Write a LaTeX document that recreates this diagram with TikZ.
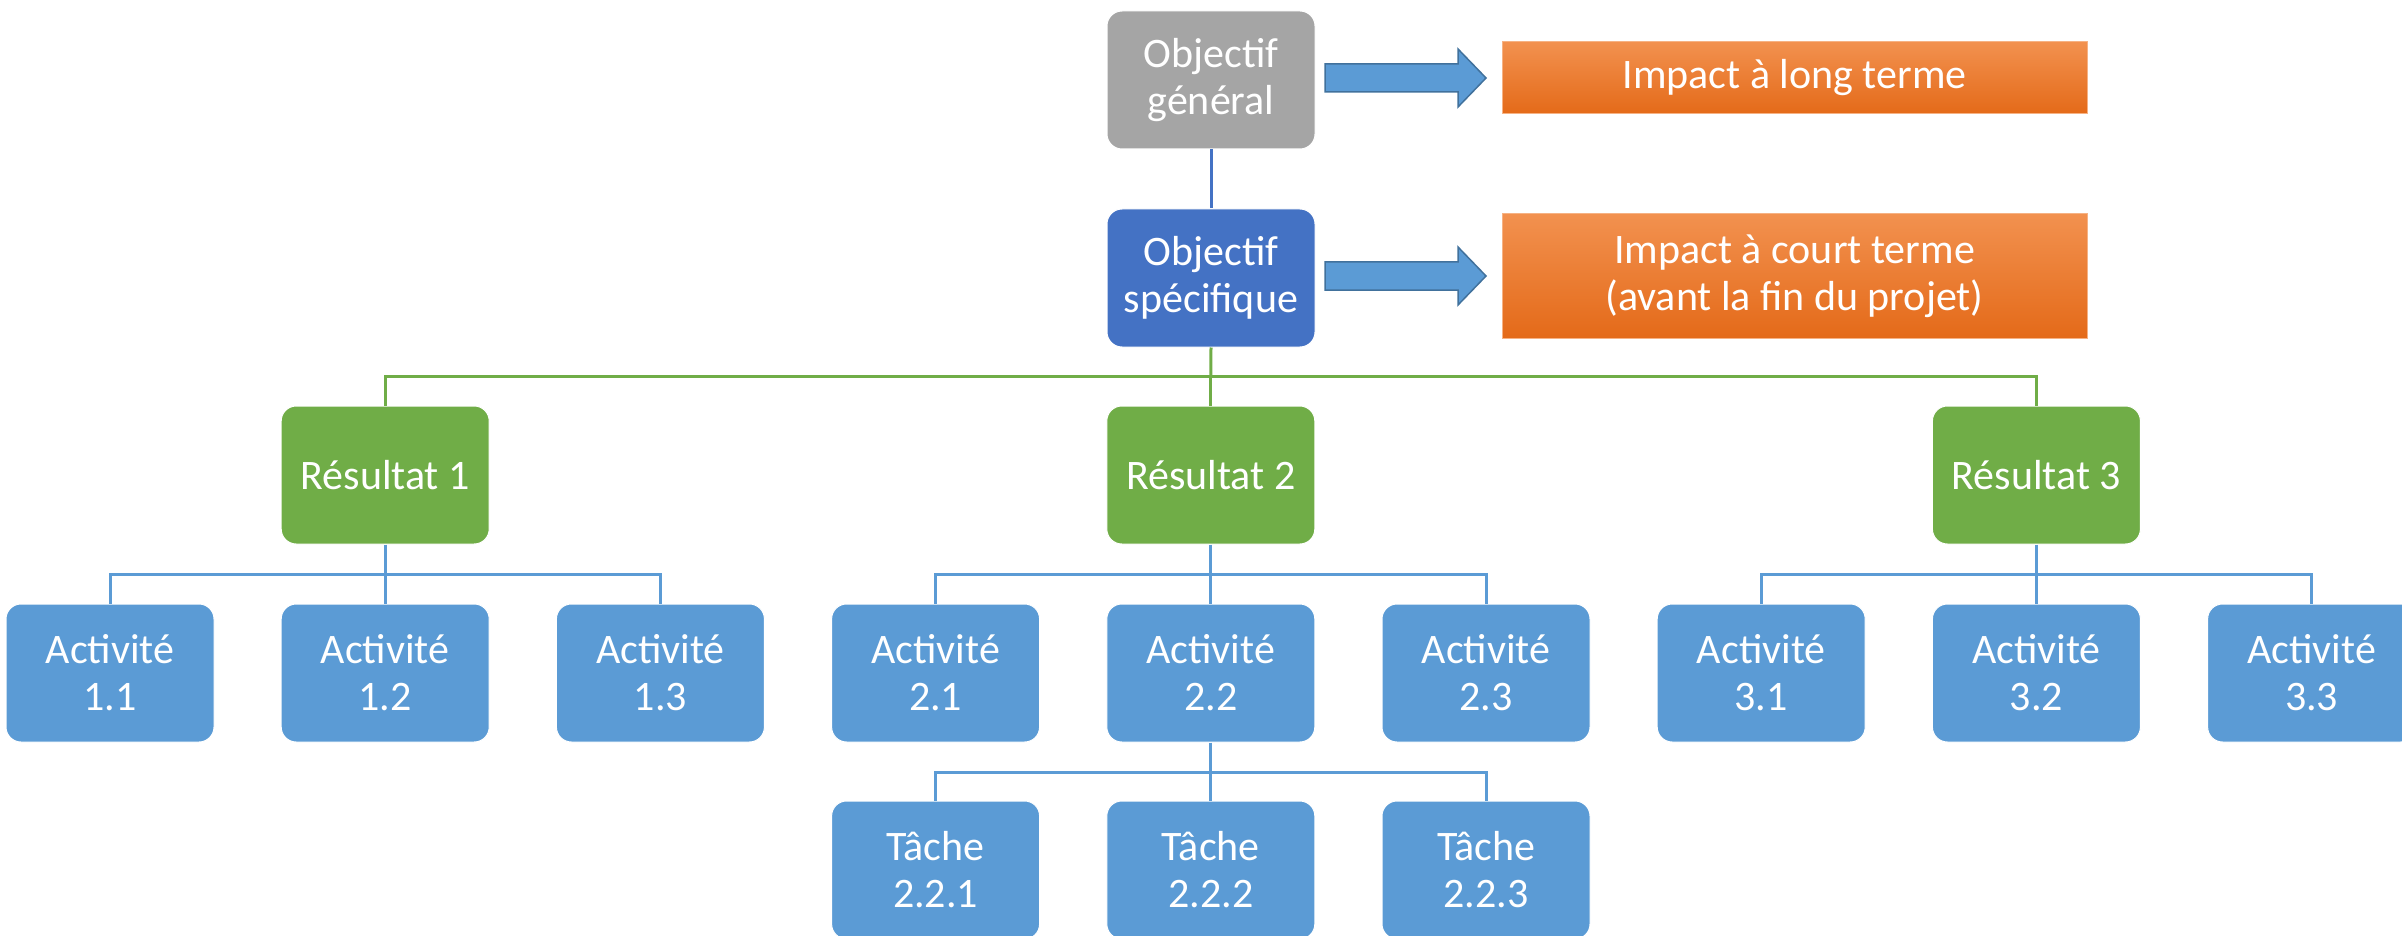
\documentclass[tikz,border=0pt]{standalone}
\usepackage{fontspec}
\setmainfont{Carlito}
\usetikzlibrary{calc}
\definecolor{boxgray}{HTML}{A5A5A5}
\definecolor{boxnavy}{HTML}{4472C4}
\definecolor{boxgreen}{HTML}{70AD47}
\definecolor{boxblue}{HTML}{5B9BD5}
\definecolor{arrowedge}{HTML}{41719C}
\definecolor{orangetop}{HTML}{F2914F}
\definecolor{orangebot}{HTML}{E46A19}
\newcommand{\boxfont}{\fontsize{42}{47}\selectfont}
\tikzset{
  chartbox/.style={rounded corners=15pt, minimum width=208pt, minimum height=138pt,
    inner sep=0pt, text=white, align=center, font=\boxfont, draw=white, line width=1pt},
  grayb/.style={chartbox, fill=boxgray},
  navyb/.style={chartbox, fill=boxnavy},
  greenb/.style={chartbox, fill=boxgreen},
  blueb/.style={chartbox, fill=boxblue},
  impactb/.style={rectangle, minimum width=585pt, inner sep=0pt, text=white, align=center,
    font=\boxfont, top color=orangetop, bottom color=orangebot, draw=orangetop!70!white, line width=1pt},
  blockarrow/.style={fill=boxblue, draw=arrowedge, line width=1.5pt, line join=miter},
  navyline/.style={draw=boxnavy, line width=3pt},
  greenline/.style={draw=boxgreen, line width=3pt},
  blueline/.style={draw=boxblue, line width=3pt},
}
\begin{document}
\begin{tikzpicture}[x=1pt, y=-1pt]
\useasboundingbox (0,0) rectangle (2402,936);
\clip (0,0) rectangle (2402,936);

% objectives
\node[grayb] (og) at (1211,80) {Objectif\\général};
\node[navyb] (os) at (1211,278) {Objectif\\spécifique};

% impacts
\node[impactb, minimum height=72pt] (il) at (1794.5,78) {Impact à long terme};
\node[impactb, minimum height=124pt] (ic) at (1794.5,276) {Impact à court terme\\(avant la fin du projet)};

% block arrows between objectives and impacts
\draw[blockarrow] (1325,64) -- (1458,64) -- (1458,49) -- (1486,78) -- (1458,107) -- (1458,92) -- (1325,92) -- cycle;
\draw[blockarrow] (1325,262) -- (1458,262) -- (1458,247) -- (1486,276) -- (1458,305) -- (1458,290) -- (1325,290) -- cycle;

% results
\node[greenb] (r1) at (385.2,475) {Résultat 1};
\node[greenb] (r2) at (1210.8,475) {Résultat 2};
\node[greenb] (r3) at (2036.4,475) {Résultat 3};

% activities
\node[blueb] (a11) at (110,673) {Activité\\1.1};
\node[blueb] (a12) at (385.2,673) {Activité\\1.2};
\node[blueb] (a13) at (660.4,673) {Activité\\1.3};
\node[blueb] (a21) at (935.6,673) {Activité\\2.1};
\node[blueb] (a22) at (1210.8,673) {Activité\\2.2};
\node[blueb] (a23) at (1486,673) {Activité\\2.3};
\node[blueb] (a31) at (1761.2,673) {Activité\\3.1};
\node[blueb] (a32) at (2036.4,673) {Activité\\3.2};
\node[blueb] (a33) at (2311.6,673) {Activité\\3.3};

% tasks
\node[blueb] (t1) at (935.6,870) {Tâche\\2.2.1};
\node[blueb] (t2) at (1210.8,870) {Tâche\\2.2.2};
\node[blueb] (t3) at (1486,870) {Tâche\\2.2.3};

% tree connectors
\draw[navyline] (og.south) -- (os.north);

\coordinate (gbar) at (1210.8,376);
\draw[greenline] (os.south) -- (gbar);
\draw[greenline] (r1.north) |- (gbar) -| (r3.north);
\draw[greenline] (gbar) -- (r2.north);

\coordinate (b1) at (385.2,574);
\draw[blueline] (r1.south) -- (a12.north);
\draw[blueline] (a11.north) |- (b1) -| (a13.north);

\coordinate (b2) at (1210.8,574);
\draw[blueline] (r2.south) -- (a22.north);
\draw[blueline] (a21.north) |- (b2) -| (a23.north);

\coordinate (b3) at (2036.4,574);
\draw[blueline] (r3.south) -- (a32.north);
\draw[blueline] (a31.north) |- (b3) -| (a33.north);

\coordinate (b4) at (1210.8,772);
\draw[blueline] (a22.south) -- (t2.north);
\draw[blueline] (t1.north) |- (b4) -| (t3.north);
\end{tikzpicture}
\end{document}
